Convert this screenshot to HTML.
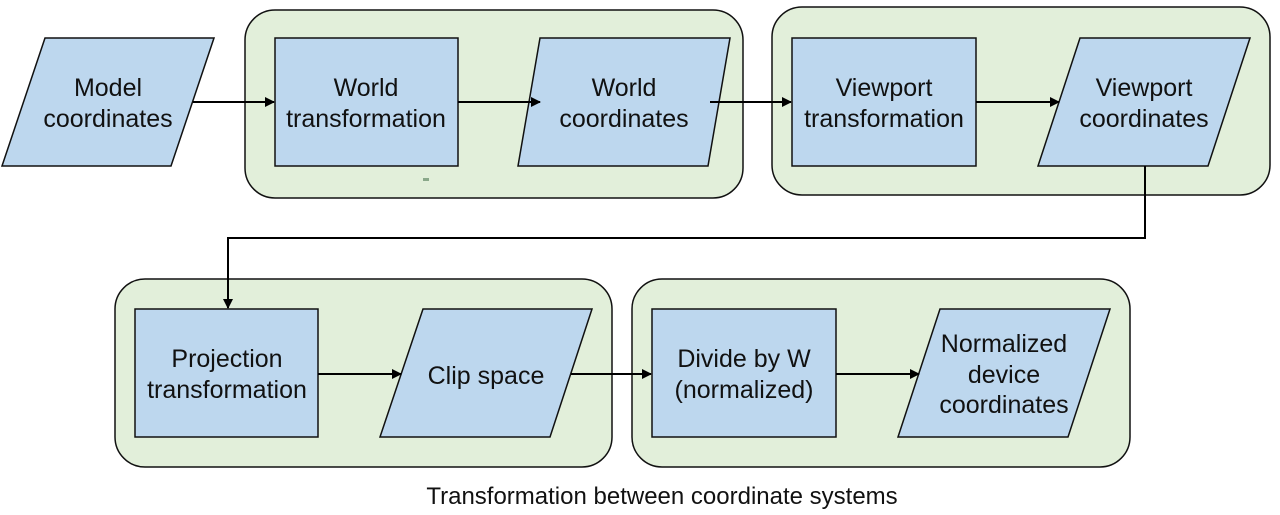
<!DOCTYPE html>
<html><head><style>body{margin:0;background:#fff}svg{display:block}text{font-family:"Liberation Sans",sans-serif;font-size:25px;fill:#111;text-anchor:middle}</style></head><body>
<svg width="1280" height="515" viewBox="0 0 1280 515">
<defs><marker id="a" markerWidth="10" markerHeight="10" refX="9" refY="5" orient="auto" markerUnits="userSpaceOnUse"><path d="M0,0 L10,5 L0,10z" fill="#000"/></marker></defs>
<g fill="#e2efda" stroke="#111" stroke-width="1.5">
<rect x="245" y="10" width="498" height="188" rx="30"/>
<rect x="772" y="7" width="498" height="188" rx="30"/>
<rect x="115" y="279" width="497" height="188" rx="30"/>
<rect x="632" y="279" width="498" height="188" rx="30"/>
</g>
<g fill="#bdd7ee" stroke="#111" stroke-width="1.5">
<polygon points="45,38 214,38 171,166 2,166"/>
<rect x="275" y="38" width="183" height="128"/>
<polygon points="540,38 730,38 708,166 518,166"/>
<rect x="792" y="38" width="184" height="128"/>
<polygon points="1080,38 1250,38 1208,166 1038,166"/>
<rect x="135" y="309" width="183" height="128"/>
<polygon points="423,309 592,309 550,437 380,437"/>
<rect x="652" y="309" width="184" height="128"/>
<polygon points="940,309 1110,309 1068,437 898,437"/>
</g>
<g stroke="#000" stroke-width="2" fill="none" marker-end="url(#a)">
<line x1="193" y1="102" x2="274" y2="102"/>
<line x1="458" y1="102" x2="540" y2="102"/>
<line x1="710" y1="102" x2="791" y2="102"/>
<line x1="976" y1="102" x2="1059" y2="102"/>
<polyline points="1145,166 1145,238 228,238 228,308"/>
<line x1="318" y1="374" x2="401" y2="374"/>
<line x1="571" y1="374" x2="651" y2="374"/>
<line x1="836" y1="374" x2="919" y2="374"/>
</g>
<rect x="423" y="178" width="6" height="3" fill="#8aa88a"/>
<text x="108" y="96">Model</text><text x="108" y="127">coordinates</text>
<text x="366" y="96">World</text><text x="366" y="127">transformation</text>
<text x="624" y="96">World</text><text x="624" y="127">coordinates</text>
<text x="884" y="96">Viewport</text><text x="884" y="127">transformation</text>
<text x="1144" y="96">Viewport</text><text x="1144" y="127">coordinates</text>
<text x="227" y="367">Projection</text><text x="227" y="398">transformation</text>
<text x="486" y="384">Clip space</text>
<text x="744" y="367">Divide by W</text><text x="744" y="398">(normalized)</text>
<text x="1004" y="352">Normalized</text><text x="1004" y="383">device</text><text x="1004" y="413">coordinates</text>
<text x="662" y="504" style="font-size:24px">Transformation between coordinate systems</text>
</svg>
</body></html>
